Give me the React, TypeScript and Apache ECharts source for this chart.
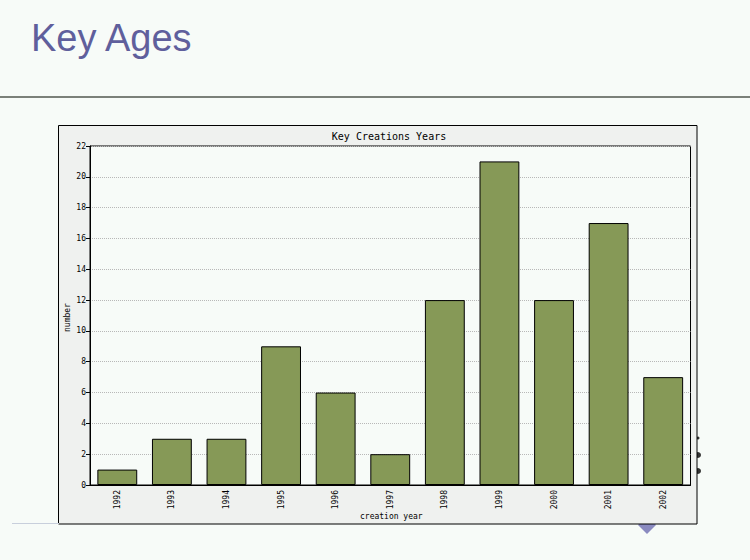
import React, { useEffect, useRef } from "react";
import * as echarts from "echarts";

const categories = ["1992", "1993", "1994", "1995", "1996", "1997", "1998", "1999", "2000", "2001", "2002"];
const counts = [1, 3, 3, 9, 6, 2, 12, 21, 12, 17, 7];
const chartTitle = "Key Creations Years";
const slideTitle = "Key Ages";
const xName = "creation year";
const yName = "number";

export default function App() {
  const ref = useRef<HTMLDivElement>(null);
  useEffect(() => {
    if (!ref.current) return;
    const chart = echarts.init(ref.current, null, { renderer: "svg" });
    const mono = "DejaVu Sans Mono";
    chart.setOption({
      animation: false,
      backgroundColor: "#f7fbf8",
      title: {
        text: chartTitle,
        left: 389,
        top: 131,
        padding: 0,
        textAlign: "center",
        textStyle: { fontFamily: mono, fontSize: 10, fontWeight: "normal", color: "#000" },
      },
      graphic: [
        {
          type: "text",
          left: 31,
          top: 19,
          style: { text: slideTitle, font: "38px 'Liberation Sans'", fill: "#5f5f9c" },
          z: 10,
        },
        {
          type: "rect",
          shape: { x: 0, y: 96, width: 750, height: 2 },
          style: { fill: "#7b8079" },
        },
        {
          type: "rect",
          shape: { x: 12, y: 523, width: 47, height: 1 },
          style: { fill: "#c8cfdc" },
        },
        {
          type: "polygon",
          z: -3,
          shape: { points: [[638, 525], [647, 516], [656, 525], [647, 534]] },
          style: { fill: "#8a8ac0" },
        },
        {
          type: "circle",
          z: -3,
          shape: { cx: 698, cy: 455, r: 3 },
          style: { fill: "#333" },
        },
        {
          type: "circle",
          z: -3,
          shape: { cx: 698, cy: 471, r: 3 },
          style: { fill: "#333" },
        },
        {
          type: "circle",
          z: -3,
          shape: { cx: 698, cy: 438, r: 1.5 },
          style: { fill: "#333" },
        },
        {
          type: "rect",
          z: -1,
          shape: { x: 58.5, y: 125.5, width: 638.5, height: 398.5 },
          style: { fill: "#eff1ef", stroke: "#000", lineWidth: 1 },
        },
        {
          type: "text",
          left: 360,
          top: 512,
          style: { text: xName, font: `8px '${mono}'`, fill: "#000" },
        },
        {
          type: "text",
          x: 63,
          y: 332,
          rotation: Math.PI / 2,
          style: { text: yName, font: `8px '${mono}'`, fill: "#000" },
        },
      ],
      grid: {
        left: 90,
        top: 146,
        width: 600.5,
        height: 339,
        show: true,
        backgroundColor: "#f7fbf8",
        borderColor: "#000",
        borderWidth: 1,
      },
      xAxis: {
        type: "category",
        data: categories,
        axisLine: { lineStyle: { color: "#000" } },
        axisTick: { alignWithLabel: true, length: 4, lineStyle: { color: "#000" } },
        axisLabel: {
          rotate: 90,
          fontFamily: mono,
          fontSize: 8,
          color: "#000",
          margin: 5,
        },
        splitLine: { show: false },
      },
      yAxis: {
        type: "value",
        min: 0,
        max: 22,
        interval: 2,
        axisLine: { show: true, lineStyle: { color: "#000" } },
        axisTick: { show: true, length: 4, lineStyle: { color: "#000" } },
        axisLabel: { fontFamily: mono, fontSize: 8, color: "#000", margin: 4 },
        splitLine: { lineStyle: { color: "#b8b8b8", type: "dotted" } },
      },
      series: [
        {
          type: "bar",
          data: counts,
          barWidth: "73%",
          itemStyle: { color: "#869957", borderColor: "#000", borderWidth: 1 },
        },
      ],
    });
    return () => chart.dispose();
  }, []);
  return (
    <div
      ref={ref}
      style={{ position: "fixed", left: 0, top: 0, width: 750, height: 560 }}
    />
  );
}
